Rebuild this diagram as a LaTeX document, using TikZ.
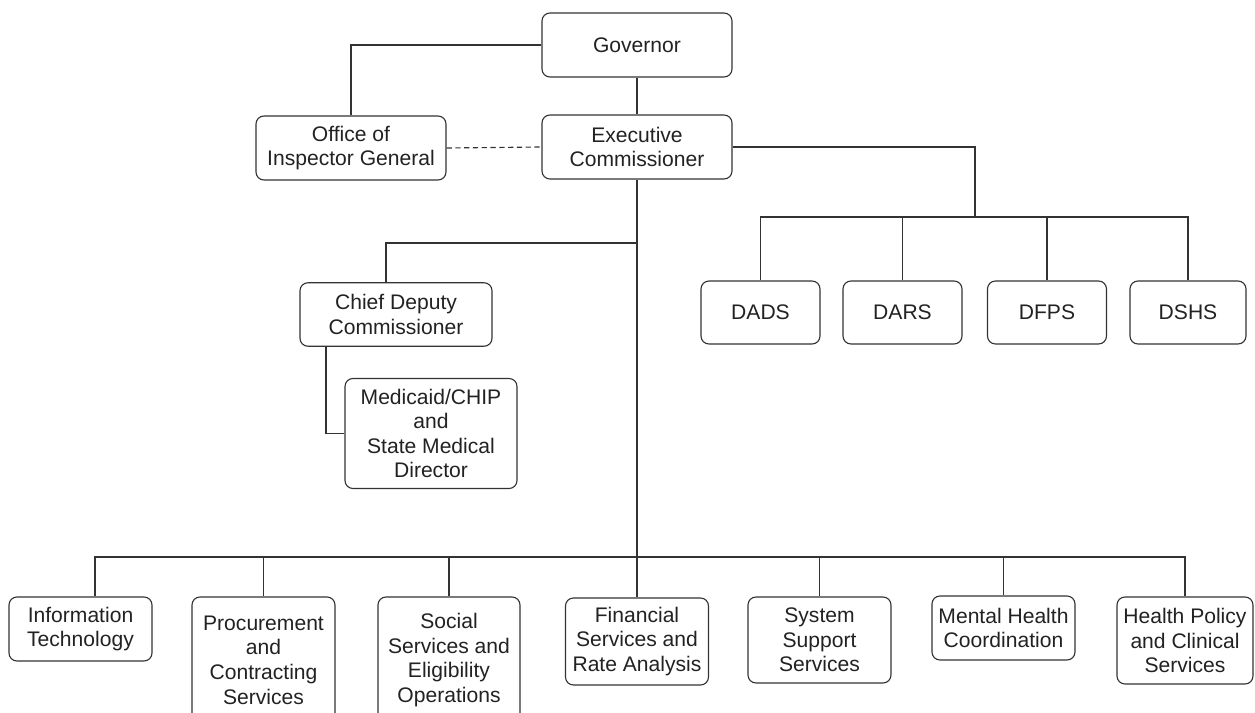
\documentclass[tikz,border=0pt]{standalone}
\usepackage{fontspec}
\setmainfont{Liberation Sans}
\definecolor{linegray}{HTML}{333333}
\definecolor{textgray}{HTML}{222222}
\tikzset{
  orgbox/.style={draw=linegray, line width=0.65pt, rounded corners=4.5pt,
    align=center, inner sep=0pt, text=textgray,
    font=\fontsize{12}{14}\selectfont},
  link/.style={draw=linegray, line width=0.65pt}
}
\begin{document}
\begin{tikzpicture}[x=0.02cm, y=-0.02cm]
  \useasboundingbox (0,0) rectangle (1255,713);

  % Top of the chart
  \node[orgbox, minimum width=3.8cm, minimum height=1.28cm] (gov) at (637,45) {Governor};
  \node[orgbox, minimum width=3.8cm, minimum height=1.28cm] (oig) at (351,148) {Office of\\Inspector General};
  \node[orgbox, minimum width=3.8cm, minimum height=1.28cm] (exec) at (637,147) {Executive\\Commissioner};

  % Deputy and medical director
  \node[orgbox, minimum width=3.84cm, minimum height=1.27cm] (cdc) at (396,314.5) {Chief Deputy\\Commissioner};
  \node[orgbox, minimum width=3.44cm, minimum height=2.2cm] (med) at (431,433.5) {Medicaid/CHIP\\and\\State Medical\\Director};

  % Departments
  \node[orgbox, minimum width=2.38cm, minimum height=1.26cm] (dads) at (760.5,312.5) {DADS};
  \node[orgbox, minimum width=2.38cm, minimum height=1.26cm] (dars) at (902.5,312.5) {DARS};
  \node[orgbox, minimum width=2.38cm, minimum height=1.26cm] (dfps) at (1047,312.5) {DFPS};
  \node[orgbox, minimum width=2.32cm, minimum height=1.26cm] (dshs) at (1188,312.5) {DSHS};

  % Bottom row
  \node[orgbox, minimum width=2.86cm, minimum height=1.28cm] (it) at (80.5,629) {Information\\Technology};
  \node[orgbox, minimum width=2.86cm, minimum height=2.52cm] (proc) at (263.5,660) {Procurement\\and\\Contracting\\Services};
  \node[orgbox, minimum width=2.84cm, minimum height=2.52cm] (soc) at (449,660) {Social\\Services and\\Eligibility\\Operations};
  \node[orgbox, minimum width=2.86cm, minimum height=1.74cm] (fin) at (637,641.5) {Financial\\Services and\\Rate Analysis};
  \node[orgbox, minimum width=2.86cm, minimum height=1.72cm] (sys) at (819.5,640) {System\\Support\\Services};
  \node[orgbox, minimum width=2.86cm, minimum height=1.28cm] (mh) at (1003.5,628) {Mental Health\\Coordination};
  \node[orgbox, minimum width=2.72cm, minimum height=1.74cm] (hp) at (1185,640.5) {Health Policy\\and Clinical\\Services};

  % Joints of the connectors
  \coordinate (djoin) at (975,217);
  \coordinate (cjoin) at (637,243);
  \coordinate (cdctop) at (386,243);
  \coordinate (cdcdrop) at (326,0);
  \coordinate (ljoin) at (95,557);

  % Draw connectors
  \draw[link] (gov.west) -| (oig.north);
  \draw[link] (gov.south) -- (exec.north);
  \draw[link, dash pattern=on 3pt off 2pt] (oig.east) -- (exec.west);
  \draw[link] (exec.east) -| (djoin);
  \draw[link] (dads.north) |- (djoin) -| (dshs.north);
  \foreach \d in {dars,dfps}{
    \draw[link] (\d.north) -- (\d.north |- djoin); % Department drop
  }
  \draw[link] (exec.south) -- (fin.north);
  \draw[link] (cjoin) -- (cdctop) -- (cdctop |- cdc.north);
  \draw[link] (cdc.south -| cdcdrop) |- (med.west);
  \draw[link] (ljoin |- it.north) -- (ljoin) -| (hp.north);
  \foreach \d in {proc,soc,sys,mh}{
    \draw[link] (\d.north) -- (\d.north |- ljoin); % Division drop
  }
\end{tikzpicture}
\end{document}
